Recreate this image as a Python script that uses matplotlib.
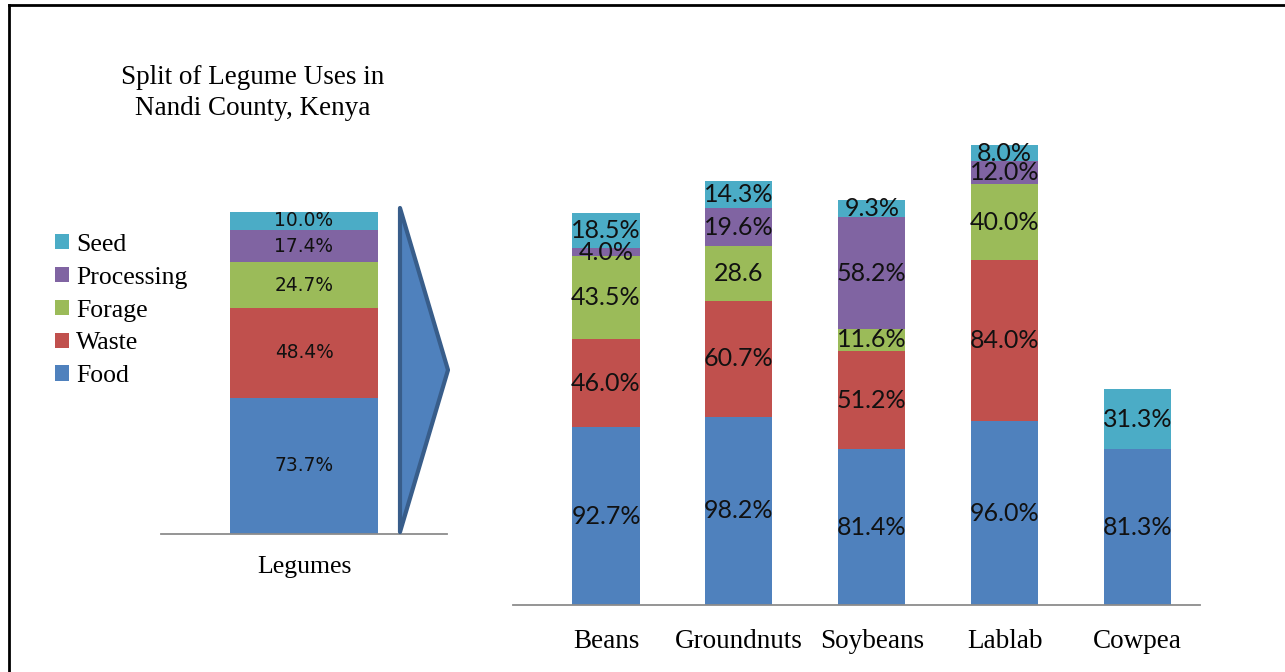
import numpy as np
import matplotlib
matplotlib.use("Agg")
from matplotlib import pyplot as plt
from matplotlib.patches import Polygon, Patch
from matplotlib.lines import Line2D

# overall split (left panel)
uses = ["Food", "Waste", "Forage", "Processing", "Seed"]
overall = [73.7, 48.4, 24.7, 17.4, 10.0]

# split per legume (right panel)
crops = ["Beans", "Groundnuts", "Soybeans", "Lablab", "Cowpea"]
food = [92.7, 98.2, 81.4, 96.0, 81.3]
waste = [46.0, 60.7, 51.2, 84.0, 0]
forage = [43.5, 28.6, 11.6, 40.0, 0]
processing = [4.0, 19.6, 58.2, 12.0, 0]
seed = [18.5, 14.3, 9.3, 8.0, 31.3]

colors = ["#4F81BD", "#C0504D", "#9BBB59", "#8064A2", "#4BACC6"]
SERIF = "Liberation Serif"
W, H = 1285, 672


def px_axes(x0, x1, ytop, ybot):
    return [x0 / W, 1 - ybot / H, (x1 - x0) / W, (ybot - ytop) / H]


def clean(ax, size, pad):
    for s in ["top", "right", "left"]:
        ax.spines[s].set_visible(False)
    ax.spines["bottom"].set_color("#8C8C8C")
    ax.spines["bottom"].set_linewidth(1.3)
    ax.set_yticks([])
    ax.tick_params(axis="x", length=0, pad=pad)
    for t in ax.get_xticklabels():
        t.set_fontfamily(SERIF)
        t.set_fontsize(size)


fig = plt.figure(figsize=(W / 100, H / 100), dpi=100)

# left panel
ax1 = fig.add_axes(px_axes(161, 447, 150, 534))
bottom = 0
for val, col in zip(overall, colors):
    ax1.bar(0, val, 0.514, bottom=bottom, color=col)
    ax1.text(0, bottom + val / 2, f"{val:.1f}%", ha="center", va="center",
             fontsize=13.4, family="DejaVu Sans", color="#111111")
    bottom += val
ax1.set_xlim(-0.5, 0.5)
ax1.set_ylim(0, 384 / 1.85)
ax1.set_xticks([0])
ax1.set_xticklabels(["Legumes"])
clean(ax1, 18.5, 16)

# right panel
ax2 = fig.add_axes(px_axes(513, 1200, 130, 605))
series = [food, waste, forage, processing, seed]
x = np.arange(len(crops))
bottoms = np.zeros(len(crops))
for name, vals, col in zip(uses, series, colors):
    vals = np.array(vals, dtype=float)
    ax2.bar(x, vals, 0.505, bottom=bottoms, color=col)
    for i, v in enumerate(vals):
        if v <= 0:
            continue
        lab = f"{v:.1f}%"
        if name == "Forage" and crops[i] == "Groundnuts":
            lab = f"{v:.1f}"
        ax2.text(x[i], bottoms[i] + v / 2, lab, ha="center", va="center",
                 fontsize=18, family="Lato", color="#111111")
    bottoms += vals
ax2.set_xlim(-0.70, 4.47)
ax2.set_ylim(0, 475 / 1.915)
ax2.set_xticks(x)
ax2.set_xticklabels(crops)
clean(ax2, 19.5, 17)

# chevron arrow between the panels
pts = [(400, 208), (448, 370), (400, 532)]
arrow = Polygon([(px / W, 1 - py / H) for px, py in pts], closed=True,
                transform=fig.transFigure, facecolor="#4F81BD",
                edgecolor="#385D8A", linewidth=3, joinstyle="round")
fig.patches.append(arrow)

# title
fig.text(253 / W, 1 - 93 / H, "Split of Legume Uses in\nNandi County, Kenya",
         ha="center", va="center", fontsize=19.5, family=SERIF, linespacing=1.35)

# legend
handles = [Patch(facecolor=c, edgecolor="none") for c in colors][::-1]
fig.legend(handles, uses[::-1], loc="upper left",
           bbox_to_anchor=(55 / W, 1 - 234 / H), frameon=False,
           prop={"family": SERIF, "size": 18.5}, handlelength=0.53,
           handleheight=0.53, handletextpad=0.3, labelspacing=0.42,
           borderaxespad=0, borderpad=0)

# outer frame (top and left edges)
fig.lines.append(Line2D([9 / W, 1], [1 - 5 / H, 1 - 5 / H], color="black",
                        linewidth=2, transform=fig.transFigure))
fig.lines.append(Line2D([9 / W, 9 / W], [0, 1 - 5 / H], color="black",
                        linewidth=2, transform=fig.transFigure))

fig.savefig("out.png", dpi=100)
